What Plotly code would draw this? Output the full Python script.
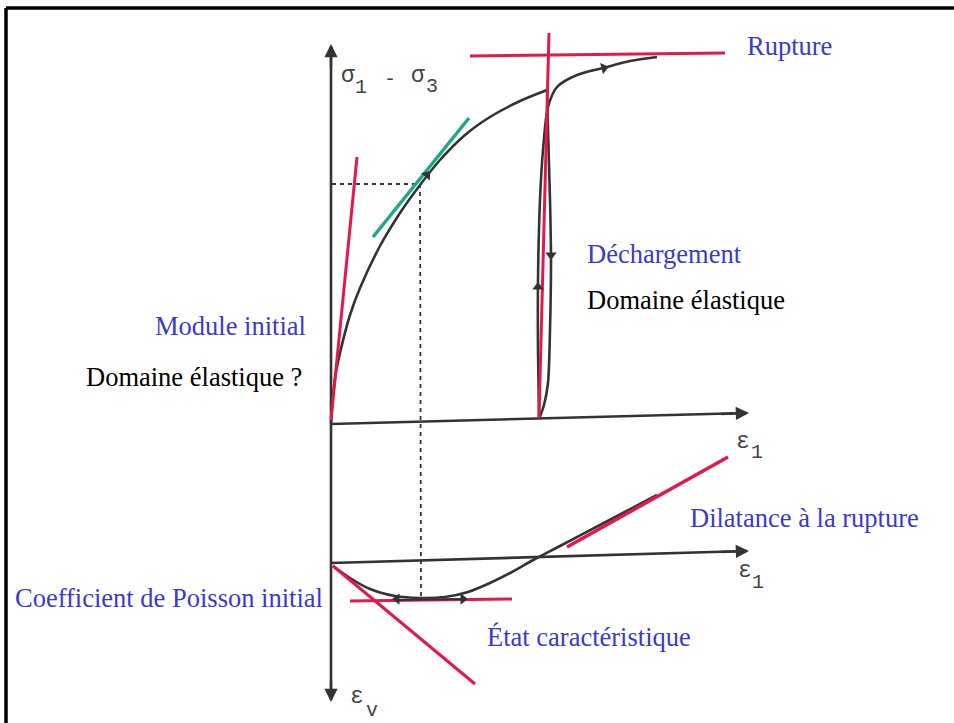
import math
import plotly.graph_objects as go

# Canvas size (drawing coordinates follow the page pixels, y downward)
W, H = 954, 723

# --- Deviatoric stress / axial strain curve (loading up to failure) ---
load_x = [331, 332, 335, 340, 350, 360, 380, 400, 420, 440, 465, 490, 520, 547]
load_y = [424, 408, 378, 353, 315, 288, 246, 213, 185, 160, 135, 117, 101, 90]

# Unloading branch (down) and reloading branch (up, then towards rupture)
unload_x = [547, 548, 550, 551, 550, 548, 544, 539]
unload_y = [90, 130, 200, 260, 330, 383, 405, 419]
reload_x = [539, 538, 538, 540, 543, 548, 557, 577, 603, 630, 657]
reload_y = [419, 350, 280, 200, 150, 107, 87, 75, 68, 61, 57]

# --- Volumetric strain / axial strain curve ---
vol_x = [333, 350, 370, 395, 420, 445, 468, 490, 512, 535, 560, 600, 657]
vol_y = [566, 578, 589, 596, 598, 597, 592, 583, 572, 559, 546, 525, 495]

# Construction lines (tangents, asymptotes)
initial_modulus = ([331, 357], [420, 157])
tangent_green = ([373, 469], [237, 118])
rupture_line = ([470, 725], [56, 53])
unload_line = ([549, 539], [33, 418])
poisson_line = ([333, 475], [566, 684])
char_line = ([350, 512], [601, 599])
dilatancy_line = ([567, 728], [547, 457])

# Guide to the characteristic state
dash_h = ([332, 420], [184, 184])
dash_v = ([420, 421], [184, 598])

# Axes
v_axis = ([331, 331], [700, 46])
top_axis = ([331, 747], [424, 413])
low_axis = ([331, 747], [563, 551])

# Direction arrows on the curves: (x, y, dx, dy)
dir_arrows = [
    (427, 175, 1, -1.25),
    (551, 255, 0, 1),
    (538, 287, 0, -1),
    (604, 68, 1, -0.25),
    (397, 599, -1, 0),
    (463, 599, 1, 0),
]

DARK = "#333333"
RED = "#e3194b"
GREEN = "#1ca88c"
BLUE = "#3a3acf"

fig = go.Figure()


def line(xy, color, width, dash=None):
    fig.add_trace(go.Scatter(
        x=xy[0], y=xy[1], mode="lines", hoverinfo="skip",
        line=dict(color=color, width=width, dash=dash),
    ))


def curve(xs, ys, color=DARK, width=2.6, smoothing=0.8):
    fig.add_trace(go.Scatter(
        x=xs, y=ys, mode="lines", hoverinfo="skip",
        line=dict(color=color, width=width, shape="spline",
                  smoothing=smoothing),
    ))


# frame (top and left edges)
line(([6, W], [8, 8]), "#000000", 3.5)
line(([6, 6], [8, H]), "#000000", 3.5)

# axes
line(v_axis, DARK, 2.6)
line(top_axis, DARK, 2.6)
line(low_axis, DARK, 2.6)

# dashed guides
line(dash_h, DARK, 1.8, "4px,4px")
line(dash_v, DARK, 1.8, "4px,4px")

# curves
curve(load_x, load_y)
curve(unload_x, unload_y)
curve(reload_x, reload_y)
curve(vol_x, vol_y)

# construction lines
line(initial_modulus, RED, 3)
line(tangent_green, GREEN, 3.5)
line(rupture_line, RED, 3)
line(unload_line, RED, 3)
line(poisson_line, RED, 3)
line(char_line, RED, 3)
line(dilatancy_line, RED, 3.5)
line(([397, 463], [600, 599]), DARK, 1.8)

# direction arrowheads
ax_, ay_, ang_ = [], [], []
for x, y, dx, dy in dir_arrows:
    ax_.append(x)
    ay_.append(y)
    ang_.append(math.degrees(math.atan2(dx, -dy)))
fig.add_trace(go.Scatter(
    x=ax_, y=ay_, mode="markers", hoverinfo="skip",
    marker=dict(symbol="triangle-up", size=10, color=DARK, angle=ang_,
                line=dict(width=0)),
))

# axis arrowheads
for (x, y, tx, ty) in [(331, 44, 331, 70), (331, 702, 331, 680),
                       (749, 413, 720, 414), (749, 551, 720, 552)]:
    fig.add_annotation(x=x, y=y, ax=tx, ay=ty, xref="x", yref="y",
                       axref="x", ayref="y", showarrow=True, text="",
                       arrowhead=2, arrowsize=1.1, arrowwidth=2.4,
                       arrowcolor=DARK)

# axis labels (typewriter style, subscripts set lower)
MONO = "Liberation Mono, DejaVu Sans Mono, monospace"
axis_glyphs = [
    ("σ", 348, 76, 23), ("1", 361, 87, 20), ("-", 390, 79, 20),
    ("σ", 418, 76, 23), ("3", 432, 86, 20),
    ("ε", 743, 442, 23), ("1", 757, 452, 20),
    ("ε", 745, 571, 23), ("1", 758, 582, 20),
    ("ε", 357, 697, 23), ("v", 372, 710, 20),
]
for ch, x, y, size in axis_glyphs:
    fig.add_annotation(x=x, y=y, text=ch, xanchor="center", yanchor="middle",
                       showarrow=False,
                       font=dict(family=MONO, size=size, color="#444444"))

# descriptive labels
serif = "Liberation Serif, Times New Roman, serif"
labels = [
    ("Rupture", 745, 46, "left", BLUE),
    ("Déchargement", 585, 254, "left", BLUE),
    ("Domaine élastique", 585, 300, "left", "#000000"),
    ("Module initial", 308, 326, "right", BLUE),
    ("Domaine élastique ?", 304, 377, "right", "#000000"),
    ("Dilatance à la rupture", 688, 518, "left", BLUE),
    ("Coefficient de Poisson initial", 325, 598, "right", BLUE),
    ("État caractéristique", 485, 637, "left", BLUE),
]
for text, x, y, anchor, color in labels:
    fig.add_annotation(x=x, y=y, text=text, xanchor=anchor, yanchor="middle",
                       showarrow=False,
                       font=dict(family=serif, size=26.5, color=color))

fig.update_layout(
    width=W, height=H,
    margin=dict(l=0, r=0, t=0, b=0),
    paper_bgcolor="white", plot_bgcolor="white",
    showlegend=False,
    xaxis=dict(range=[0, W], visible=False, fixedrange=True),
    yaxis=dict(range=[H, 0], visible=False, fixedrange=True),
)

fig.write_html("out.html")
